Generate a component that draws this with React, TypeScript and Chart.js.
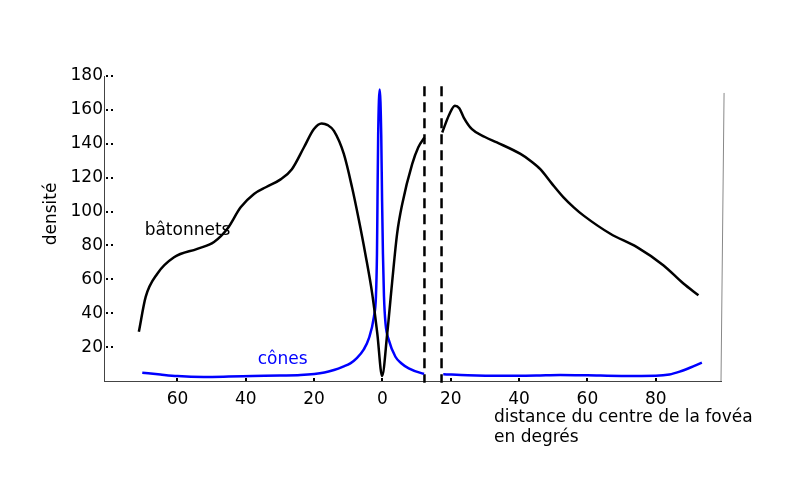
import React, { useEffect, useRef } from 'react';
import { Chart, registerables } from 'chart.js';
Chart.register(...registerables);

// Rods (bâtonnets) – left of the blind spot
const rodsLeftX = [-71.3, -69.3, -65.9, -61, -54.2, -49.3, -45.4, -41.5, -37.6, -34, -29.8, -26.5, -23, -20.1, -17.8, -16, -14.2, -11.3, -8.9, -6.9, -5, -3, -1.5, -0.1, 1.4, 2.8, 4.3, 5.8, 8.7, 10.5, 12.3];
const rodsLeftY = [29, 49.6, 63.3, 73, 78, 82, 89.8, 102.5, 110.4, 114.5, 119, 125, 137.8, 148.6, 152, 151, 147.6, 134, 114.3, 95, 75, 51.6, 28, 3, 28, 57.5, 87, 104.5, 128, 138, 143.7];
// Rods – right of the blind spot
const rodsRightX = [17.5, 19.5, 21.2, 22.5, 23.8, 26.2, 30, 33.5, 40.4, 43.3, 46.2, 49.6, 53, 56, 58.9, 66.7, 74.5, 82.3, 88.1, 92.5];
const rodsRightY = [146.7, 157, 162.5, 161, 155.5, 148.6, 144, 140.8, 134, 130, 125, 116.5, 108.4, 102.5, 97.6, 86.9, 79, 68.2, 57.5, 50.6];
// Cones (cônes)
const conesLeftX = [-70.3, -65, -60, -52.3, -45, -38, -30, -24, -17, -14.2, -11.5, -9.4, -7.5, -5.5, -4, -2.5, -1.9, -1.6, -1.45, -1.25, -0.8, -0.35, -0.1, 0.15, 0.45, 0.9, 1.9, 3.8, 5.5, 7.7, 11.6, 12.2];
const conesLeftY = [4.9, 3.8, 2.9, 2.4, 2.6, 2.9, 3.2, 3.5, 5, 6.5, 8.5, 10.4, 13.5, 18.5, 25, 37.8, 50, 75, 106, 145, 172, 145, 106, 75, 50, 34, 24, 14.3, 10.5, 7.5, 4.5, 4.3];
const conesRightX = [17.8, 25, 35, 45, 52, 60, 70, 80, 84, 87, 90, 93.5];
const conesRightY = [4.0, 3.4, 3.1, 3.3, 3.6, 3.4, 3.0, 3.1, 3.8, 5.5, 7.8, 10.8];
// Blind spot boundaries (dashed)
const blindSpotX = [12.3, 17.3];
const blindSpotTop = 174;
const blindSpotBottom = -1;
// Right frame line
const frameX = [100, 99.1];
const frameY = [170, 0];

const xTickValues = [-60, -40, -20, 0, 20, 40, 60, 80];
const yTickValues = [20, 40, 60, 80, 100, 120, 140, 160, 180];
const yAxisTitle = 'densité';
const xAxisTitle = ['distance du centre de la fovéa', 'en degrés'];
const annotations = [
  { text: 'bâtonnets', x: -69.6, y: 88.8, color: '#000000' },
  { text: 'cônes', x: -36.5, y: 12.4, color: '#0000ff' },
];

const FONT = '"DejaVu Sans", sans-serif';
const FS = 17;

function pts(xs: number[], ys: number[]) {
  return xs.map((x, i) => ({ x, y: ys[i] }));
}

const decorPlugin = {
  id: 'decor',
  afterDraw(chart: any) {
    const { ctx, chartArea, scales } = chart;
    const xs = scales.x;
    const ys = scales.y;
    ctx.save();
    ctx.fillStyle = '#000';
    // y tick dots inside the axis
    yTickValues.forEach((v) => {
      const py = Math.round(ys.getPixelForValue(v));
      ctx.fillRect(chartArea.left + 2, py - 1, 2, 2);
      ctx.fillRect(chartArea.left + 7, py - 1, 2, 2);
    });
    // x tick marks above the axis
    xTickValues.forEach((v) => {
      const px = Math.round(xs.getPixelForValue(v));
      ctx.fillRect(px - 1, chartArea.bottom - 3, 2, 3);
    });
    // annotations
    ctx.font = `${FS}px ${FONT}`;
    ctx.textBaseline = 'middle';
    ctx.textAlign = 'left';
    annotations.forEach((a) => {
      ctx.fillStyle = a.color;
      ctx.fillText(a.text, xs.getPixelForValue(a.x), ys.getPixelForValue(a.y));
    });
    // axis titles
    ctx.fillStyle = '#000';
    ctx.textAlign = 'left';
    xAxisTitle.forEach((line, i) => {
      ctx.fillText(line, chartArea.left + 390, chartArea.bottom + 37 + i * 20);
    });
    ctx.translate(chartArea.left - 52, chartArea.bottom - 167);
    ctx.rotate(-Math.PI / 2);
    ctx.textAlign = 'center';
    ctx.fillText(yAxisTitle, 0, 0);
    ctx.restore();
  },
};

export default function App() {
  const ref = useRef<HTMLCanvasElement | null>(null);
  useEffect(() => {
    if (!ref.current) return;
    Chart.defaults.font.family = FONT;
    const curve = (data: any, color: string) => ({
      data,
      borderColor: color,
      backgroundColor: color,
      borderWidth: 2.5,
      pointRadius: 0,
      cubicInterpolationMode: 'monotone' as const,
      fill: false,
    });
    const dashed = (x: number) => ({
      data: [{ x, y: blindSpotTop }, { x, y: blindSpotBottom }],
      borderColor: '#000',
      borderWidth: 2.5,
      borderDash: [10, 6],
      pointRadius: 0,
      tension: 0,
      clip: false as const,
      fill: false,
    });
    const chart = new Chart(ref.current, {
      type: 'line',
      data: {
        datasets: [
          curve(pts(rodsLeftX, rodsLeftY), '#000000'),
          curve(pts(rodsRightX, rodsRightY), '#000000'),
          curve(pts(conesLeftX, conesLeftY), '#0000ff'),
          curve(pts(conesRightX, conesRightY), '#0000ff'),
          ...blindSpotX.map(dashed),
          {
            data: pts(frameX, frameY),
            borderColor: '#888888',
            borderWidth: 1,
            pointRadius: 0,
            tension: 0,
            clip: false as const,
            fill: false,
          },
        ] as any,
      },
      options: {
        animation: false,
        responsive: false,
        layout: { padding: { left: 0, top: 76, right: 79, bottom: 0 } },
        plugins: { legend: { display: false }, tooltip: { enabled: false } },
        scales: {
          x: {
            type: 'linear',
            min: -81.5,
            max: 99.1,
            grid: { display: false, drawTicks: false },
            border: { display: true, color: '#444', width: 1 },
            afterBuildTicks: (s: any) => {
              s.ticks = xTickValues.map((v) => ({ value: v }));
            },
            afterFit: (s: any) => {
              s.height = 106;
            },
            ticks: {
              autoSkip: false,
              maxRotation: 0,
              padding: 8,
              color: '#000',
              font: { size: FS, family: FONT },
              callback: (v: any) => String(Math.abs(Number(v))),
            },
          },
          y: {
            type: 'linear',
            min: 0,
            max: 180,
            grid: { display: false, drawTicks: false },
            border: { display: true, color: '#444', width: 1 },
            afterBuildTicks: (s: any) => {
              s.ticks = yTickValues.map((v) => ({ value: v }));
            },
            afterFit: (s: any) => {
              s.width = 104;
            },
            ticks: {
              padding: 1,
              color: '#000',
              font: { size: FS, family: FONT },
            },
          },
        },
      },
      plugins: [decorPlugin],
    });
    return () => chart.destroy();
  }, []);
  return (
    <div style={{ position: 'absolute', left: 0, top: 0, width: 800, height: 487, background: '#fff' }}>
      <canvas ref={ref} width={800} height={487} />
    </div>
  );
}
